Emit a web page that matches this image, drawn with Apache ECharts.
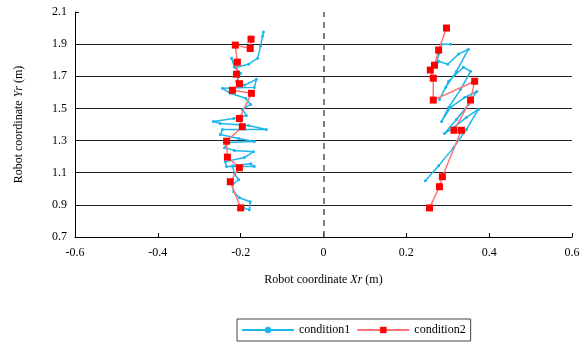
<!DOCTYPE html>
<html><head><meta charset="utf-8">
<script src="https://cdn.jsdelivr.net/npm/echarts@6/dist/echarts.min.js"></script>
<style>html,body{margin:0;padding:0;background:#fff}#c{width:588px;height:346px}</style>
</head><body><div id="c"></div>
<script>
// condition1 trajectories (X, Y in m)
const cond1LeftX = [-0.193,-0.179,-0.177,-0.203,-0.217,-0.220,-0.205,-0.215,-0.220,-0.176,-0.167,-0.234,-0.237,-0.191,-0.169,-0.215,-0.239,-0.232,-0.167,-0.205,-0.249,-0.244,-0.138,-0.181,-0.249,-0.266,-0.217,-0.186,-0.196,-0.176,-0.188,-0.225,-0.244,-0.167,-0.162,-0.191,-0.210,-0.200,-0.215,-0.222,-0.210,-0.181,-0.159,-0.152,-0.147,-0.145];
const cond1LeftY = [0.881,0.869,0.919,0.944,0.981,1.025,1.056,1.094,1.144,1.156,1.138,1.138,1.169,1.194,1.231,1.238,1.256,1.288,1.294,1.313,1.338,1.369,1.369,1.394,1.406,1.419,1.438,1.456,1.494,1.525,1.563,1.594,1.625,1.631,1.681,1.644,1.669,1.719,1.756,1.813,1.756,1.775,1.813,1.888,1.950,1.975];
const cond1RightX = [0.246,0.278,0.314,0.345,0.374,0.345,0.314,0.292,0.321,0.350,0.370,0.341,0.307,0.285,0.302,0.331,0.355,0.338,0.302,0.280,0.295,0.321,0.350,0.326,0.300,0.278,0.271,0.278,0.285,0.307];
const cond1RightY = [1.050,1.144,1.256,1.369,1.494,1.444,1.381,1.344,1.431,1.525,1.606,1.569,1.506,1.419,1.506,1.619,1.731,1.756,1.669,1.556,1.631,1.731,1.869,1.838,1.775,1.794,1.756,1.838,1.900,1.900];
// condition2 trajectories
const cond2LeftX = [-0.200,-0.225,-0.203,-0.232,-0.234,-0.196,-0.203,-0.174,-0.220,-0.203,-0.210,-0.208,-0.213,-0.177,-0.175];
const cond2LeftY = [0.881,1.044,1.131,1.197,1.296,1.386,1.438,1.594,1.613,1.654,1.713,1.788,1.894,1.873,1.931];
const cond2RightX = [0.256,0.280,0.287,0.333,0.315,0.355,0.365,0.265,0.265,0.258,0.268,0.278,0.297];
const cond2RightY = [0.881,1.013,1.075,1.364,1.364,1.552,1.669,1.552,1.688,1.739,1.769,1.863,2.000];

const xTicks = {min:-0.6, max:0.6, interval:0.2};
const yTicks = {min:0.7, max:2.1, interval:0.2};

const zip = (a,b)=>a.map((v,i)=>[v,b[i]]);
const FONT = '"Liberation Serif", "Times New Roman", serif';
const blue = '#1cb6ea', red = '#ff0000';

function c1(name, data){
  return {name, type:'line', data, symbol:'circle', symbolSize:3, showSymbol:true,
    lineStyle:{color:blue, width:1.5}, itemStyle:{color:blue}, z:2, animation:false};
}
function c2(name, data){
  return {name, type:'line', data, symbol:'rect', symbolSize:7,
    lineStyle:{color:'#ff7474', width:1.5, type:'solid'}, itemStyle:{color:red}, z:3, animation:false};
}
const chart = echarts.init(document.getElementById('c'), null, {renderer:'canvas'});
chart.setOption({
  backgroundColor:'#fff',
  textStyle:{fontFamily:FONT},
  grid:{left:75, right:16, top:12, bottom:109, show:false},
  legend:{
    data:['condition1','condition2'], left:237, top:319, width:236,
    borderColor:'#444', borderWidth:1, padding:[5,5,5,4], itemGap:6,
    itemWidth:52, itemHeight:8,
    textStyle:{fontFamily:FONT, fontSize:12, color:'#000'}
  },
  xAxis:{
    type:'value', min:xTicks.min, max:xTicks.max, interval:xTicks.interval,
    name:'Robot coordinate {i|Xr} (m)', nameLocation:'middle', nameGap:37,
    nameTextStyle:{fontFamily:FONT, fontSize:12, color:'#000', rich:{i:{fontStyle:'italic', fontFamily:FONT, fontSize:12}}},
    axisLine:{show:true, onZero:false, lineStyle:{color:'#000', width:1}},
    axisTick:{show:true, inside:true, length:4, lineStyle:{color:'#000'}},
    axisLabel:{fontFamily:FONT, fontSize:12, color:'#000', margin:10,
      formatter:v=>Math.abs(v)<1e-9?'0':v.toFixed(1)},
    splitLine:{show:false}
  },
  yAxis:{
    type:'value', min:yTicks.min, max:yTicks.max, interval:yTicks.interval,
    name:'Robot coordinate {i|Yr} (m)', nameLocation:'middle', nameGap:50, nameRotate:90,
    nameTextStyle:{fontFamily:FONT, fontSize:12, color:'#000', rich:{i:{fontStyle:'italic', fontFamily:FONT, fontSize:12}}},
    axisLine:{show:true, onZero:false, lineStyle:{color:'#000', width:1}},
    axisTick:{show:true, inside:true, length:4, lineStyle:{color:'#000'}},
    axisLabel:{fontFamily:FONT, fontSize:12, color:'#000', margin:8,
      formatter:v=>v.toFixed(1)},
    splitLine:{show:true, showMaxLine:false, lineStyle:{color:'#222', width:1}}
  },
  series:[
    Object.assign(c1('condition1', zip(cond1LeftX, cond1LeftY)), {
      markLine:{silent:true, symbol:'none', label:{show:false},
        lineStyle:{color:'#555', type:[6,5], width:1.5}, data:[{xAxis:0}]}
    }),
    c1('condition1', zip(cond1RightX, cond1RightY)),
    c2('condition2', zip(cond2LeftX, cond2LeftY)),
    c2('condition2', zip(cond2RightX, cond2RightY))
  ]
});
</script></body></html>
